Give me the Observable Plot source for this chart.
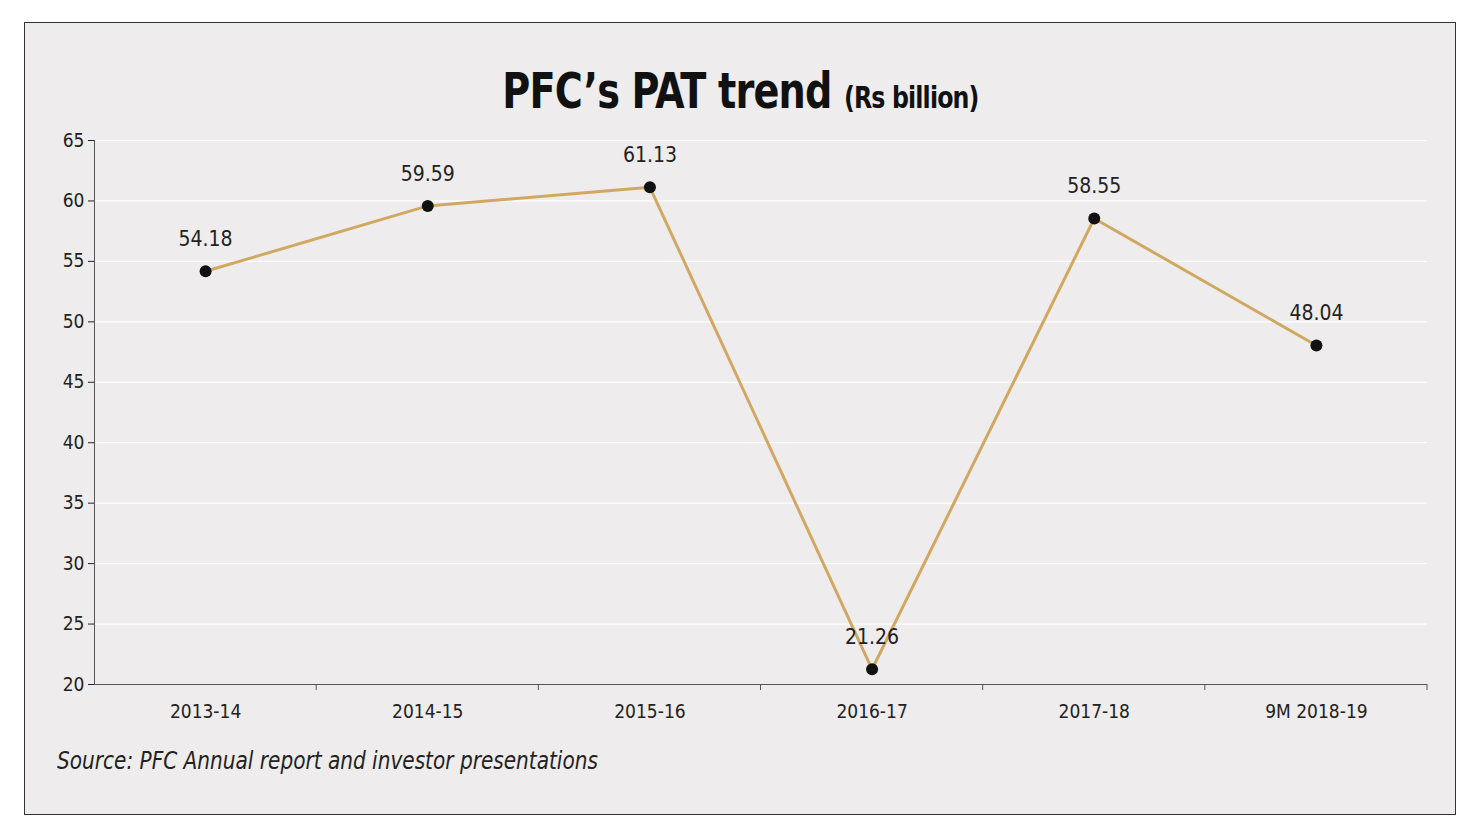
<!DOCTYPE html>
<html><head><meta charset="utf-8">
<script src="https://cdn.jsdelivr.net/npm/d3@7"></script>
<script src="https://cdn.jsdelivr.net/npm/@observablehq/plot@0.6"></script>
<style>
body{margin:0;background:#fff;width:1481px;height:835px;position:relative;overflow:hidden;font-family:"DejaVu Sans Condensed",sans-serif;}
#frame{position:absolute;left:24px;top:22px;width:1430px;height:791px;border:1.5px solid #333;background:#eeecec;}
#title{position:absolute;left:0;width:1481px;top:62px;text-align:center;font-family:"DejaVu Sans Condensed",sans-serif;font-weight:bold;font-size:50px;color:#111;letter-spacing:-1px;transform:scaleX(0.85);}
#title span{font-size:31px;}
#src{position:absolute;left:57px;top:747px;font-style:italic;font-size:24px;color:#222;transform-origin:left;transform:scaleX(0.93);}
#chart{position:absolute;left:0;top:0;}
</style></head><body>
<div id="frame"></div>
<div id="title">PFC’s PAT trend <span>(Rs billion)</span></div>
<div id="chart"></div>
<div id="src">Source: PFC Annual report and investor presentations</div>
<script>
const categories=["2013-14","2014-15","2015-16","2016-17","2017-18","9M 2018-19"];
const values=[54.18,59.59,61.13,21.26,58.55,48.04];
const yTicks=[20,25,30,35,40,45,50,55,60,65];
const data=categories.map((c,i)=>({i,c,v:values[i]}));
const bounds=d3.range(categories.length+1).map(i=>i-0.5);
const plot=Plot.plot({
  width:1481,height:835,marginLeft:94,marginRight:54,marginTop:140,marginBottom:151,
  style:{background:"transparent",fontSize:"19px",fontFamily:"'DejaVu Sans Condensed',sans-serif",color:"#222"},
  x:{domain:[-0.5,categories.length-0.5]},
  y:{domain:[20,65]},
  marks:[
    Plot.ruleY(yTicks.slice(1),{stroke:"#fff",strokeWidth:1.2}),
    Plot.axisY({ticks:yTicks,tickSize:6,tickPadding:4,label:null}),
    Plot.axisX({ticks:d3.range(categories.length),tickFormat:i=>categories[i],tickSize:0,tickPadding:20,label:null}),
    Plot.ruleY([20],{stroke:"#555"}),
    Plot.ruleX([-0.5],{stroke:"#555"}),
    Plot.line(data,{x:"i",y:"v",stroke:"#d1a862",strokeWidth:3}),
    Plot.dot(data,{x:"i",y:"v",r:6,fill:"#111"}),
    Plot.text(data,{x:"i",y:"v",text:d=>d.v.toFixed(2),dy:-32,fontSize:21,fill:"#222"})
  ]
});
document.getElementById("chart").appendChild(plot);
const xs=plot.scale("x"),ys=plot.scale("y");
d3.select(plot).append("g").selectAll("line").data(bounds.slice(1)).join("line")
 .attr("x1",d=>xs.apply(d)).attr("x2",d=>xs.apply(d)).attr("y1",ys.apply(20)).attr("y2",ys.apply(20)+6).attr("stroke","#555");
</script>
</body></html>
